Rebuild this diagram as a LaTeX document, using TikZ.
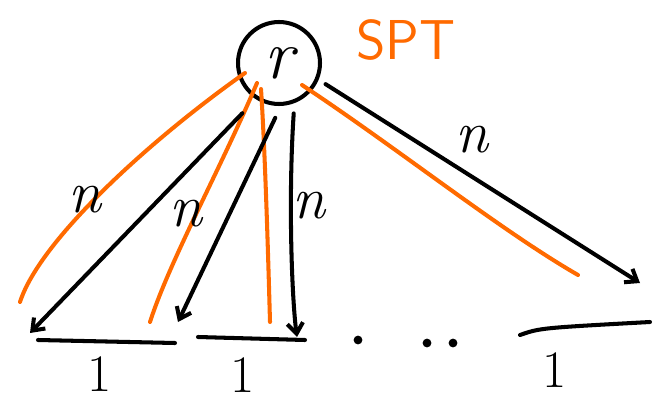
\documentclass[tikz,border=0pt]{standalone}
\usepackage{fontspec}
\usetikzlibrary{arrows.meta}
\begin{document}
\begin{tikzpicture}[x=0.02cm, y=-0.02cm, line cap=round, line join=round]
    % Define colours
    \definecolor{penColour}{HTML}{000000}
    \definecolor{sptColour}{HTML}{FF6A00}

    % Styles
    \tikzset{
        pen/.style={draw=penColour, line width=2.3pt},
        sptpen/.style={draw=sptColour, line width=2.3pt},
        edgeto/.style={pen, -{Straight Barb[length=6pt, width=9pt]}},
        lbl/.style={font=\fontsize{34}{36}\selectfont\itshape, inner sep=0pt},
        unit/.style={font=\fontsize{30}{32}\selectfont, inner sep=0pt}
    }

    % Fix the page
    \useasboundingbox (0,0) rectangle (659,402);

    % Root
    \node[circle, pen, minimum size=1.64cm, inner sep=0pt, font=\fontsize{40}{42}\selectfont\itshape] (r) at (279,63) {r};
    \node[font=\fontsize{32}{34}\selectfont\sffamily, text=sptColour] (spt) at (406,40) {SPT};

    % Leaf ends
    \coordinate (L1) at (30,333);
    \coordinate (L2) at (178,322);
    \coordinate (L3) at (297,337);
    \coordinate (L4) at (640,283);
    \coordinate (O1) at (20,302);
    \coordinate (O2) at (150,322);
    \coordinate (O3) at (270,322);
    \coordinate (O4) at (578,275);

    % Shortest path tree (orange)
    \draw[sptpen] (r.center) ++(-34,10) .. controls (150,140) and (40,240) .. (O1);
    \draw[sptpen] (r.center) ++(-22,20) .. controls (220,170) and (170,260) .. (O2);
    \draw[sptpen] (r.center) ++(-18,26) .. controls (265,150) and (268,250) .. (O3);
    \draw[sptpen] (r.center) ++(23,22) .. controls (400,150) and (500,230) .. (O4);

    % Edges of weight n (black)
    \draw[edgeto] (r.235) ++(-12,15) -- (L1);
    \draw[edgeto] (r.265) ++(0,12) -- (L2);
    \draw[edgeto] (r.290) ++(0,10) .. controls (288,200) and (292,300) .. (L3);
    \draw[edgeto] (r.345) ++(5,10) -- (L4);

    % Edge labels
    \node[lbl] (n1) at (85,200) {n};
    \node[lbl] (n2) at (186,214) {n};
    \node[lbl] (n3) at (309,206) {n};
    \node[lbl] (n4) at (472,140) {n};

    % Bottom segments
    \draw[pen] (38,340) -- (175,343);
    \draw[pen] (198,337) -- (305,340);
    \draw[pen] (520,335) .. controls (540,328) .. (650,322);

    % Dots
    \foreach \x/\y in {358/340, 427/343, 453/343}
        \fill[penColour] (\x,\y) circle (2.5pt);

    % Segment labels
    \node[unit] (u1) at (100,374) {1};
    \node[unit] (u2) at (243,375) {1};
    \node[unit] (u3) at (555,370) {1};

\end{tikzpicture}
\end{document}
